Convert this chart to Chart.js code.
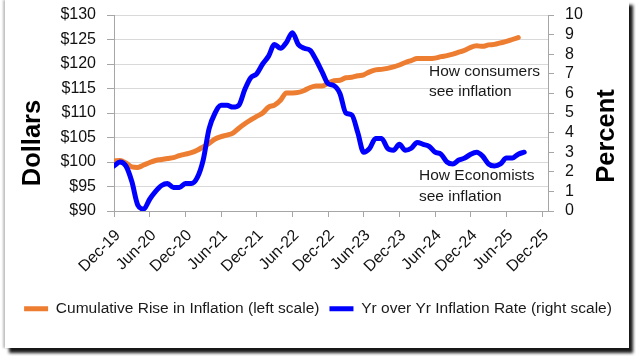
<!DOCTYPE html>
<html><head><meta charset="utf-8">
<script src="https://cdn.jsdelivr.net/npm/chart.js@4"></script>
<style>
html,body{margin:0;padding:0;background:#fff;width:636px;height:356px;overflow:hidden}
#frame{position:absolute;left:5px;top:0;width:624px;height:348px;background:#fff;box-shadow:4px 5px 3px rgba(0,0,0,0.9),-2px 0 2px rgba(0,0,0,0.25)}
#c{position:absolute;left:0;top:0}
</style></head><body>
<div id="frame"></div>
<canvas id="c" width="636" height="356"></canvas>
<script>
const xTickLabels = ['Dec-19','Jun-20','Dec-20','Jun-21','Dec-21','Jun-22','Dec-22','Jun-23','Dec-23','Jun-24','Dec-24','Jun-25','Dec-25'];
const seriesNames = ['Cumulative Rise in Inflation (left scale)', 'Yr over Yr Inflation Rate (right scale)'];
const cumulativeRise = [
  100.2,100.3,99.8,99.0,98.9,99.4,99.9,100.3,100.5,100.7,100.9,101.3,
  101.6,101.9,102.4,103.1,103.8,104.7,105.2,105.5,105.9,106.9,107.8,108.6,
  109.3,110.0,111.2,111.6,112.6,114.1,114.1,114.2,114.6,115.2,115.5,115.5,
  116.1,116.6,116.7,117.2,117.3,117.6,117.8,118.4,118.8,118.9,119.1,119.4,
  119.8,120.3,120.7,121.1,121.1,121.1,121.2,121.5,121.7,122.0,122.4,122.8,
  123.4,123.7,123.6,123.9,124.0,124.3,124.6,125.0,125.4
];
const yoyRate = [
  2.3,
  2.5,2.3,1.5,0.3,0.1,0.6,1.0,1.3,1.4,1.2,1.2,1.4,
  1.4,1.7,2.6,4.2,5.0,5.4,5.4,5.3,5.4,6.2,6.8,7.0,
  7.5,7.9,8.5,8.3,8.6,9.1,8.5,8.3,8.2,7.7,7.1,6.5,
  6.4,6.0,5.0,4.9,4.0,3.0,3.2,3.7,3.7,3.2,3.1,3.4,
  3.1,3.2,3.5,3.4,3.3,3.0,2.9,2.5,2.4,2.6,2.7,2.9,
  3.0,2.8,2.4,2.3,2.4,2.7,2.7,2.9,3.0
];
const leftAxisTitle = 'Dollars';
const rightAxisTitle = 'Percent';
const noteConsumers = ['How consumers', 'see inflation'];
const noteEconomists = ['How Economists', 'see inflation'];

const FONT = "'Liberation Sans', Arial, sans-serif";
Chart.defaults.font.family = FONT;
Chart.defaults.color = '#111';

const overlayText = {
  id: 'overlayText',
  afterDraw(chart) {
    const ctx = chart.ctx;
    ctx.save();
    ctx.fillStyle = '#000';
    ctx.font = "bold 25.5px " + FONT;
    ctx.textAlign = 'center';
    ctx.textBaseline = 'middle';
    ctx.save(); ctx.translate(33, 143); ctx.rotate(-Math.PI / 2); ctx.fillText(leftAxisTitle, 0, 0); ctx.restore();
    ctx.save(); ctx.translate(607, 136); ctx.rotate(-Math.PI / 2); ctx.fillText(rightAxisTitle, 0, 0); ctx.restore();
    ctx.font = "15.5px " + FONT;
    ctx.fillStyle = '#1a1a1a';
    ctx.textAlign = 'left';
    ctx.fillText(noteConsumers[0], 429, 72);
    ctx.fillText(noteConsumers[1], 429, 92);
    ctx.fillText(noteEconomists[0], 419, 176);
    ctx.fillText(noteEconomists[1], 419, 197);
    ctx.restore();
  }
};

const toPts = arr => arr.map((v, i) => ({x: i, y: v}));
const noVertPad = s => { s.paddingTop = 0; s.paddingBottom = 0; };

new Chart(document.getElementById('c'), {
  type: 'line',
  data: {
    datasets: [
      {
        label: seriesNames[0], data: toPts(cumulativeRise), yAxisID: 'y',
        borderColor: '#ED7D31', backgroundColor: '#ED7D31', borderWidth: 5,
        pointRadius: 0, cubicInterpolationMode: 'monotone',
        borderCapStyle: 'round', borderJoinStyle: 'round', order: 1
      },
      {
        label: seriesNames[1], data: toPts(yoyRate), yAxisID: 'y1',
        borderColor: '#0000FF', backgroundColor: '#0000FF', borderWidth: 5,
        pointRadius: 0, cubicInterpolationMode: 'monotone',
        borderCapStyle: 'round', borderJoinStyle: 'round', order: 0
      }
    ]
  },
  options: {
    responsive: false, animation: false, devicePixelRatio: 1,
    layout: { padding: { top: 15, bottom: 29.5, left: 0, right: 0 } },
    plugins: {
      tooltip: { enabled: false },
      legend: {
        position: 'bottom',
        labels: {
          usePointStyle: true, pointStyle: 'line', pointStyleWidth: 24,
          font: { size: 15.5 }, color: '#1a1a1a', padding: 10,
          sort: (a, b) => a.datasetIndex - b.datasetIndex
        }
      }
    },
    scales: {
      x: {
        type: 'linear', min: 0, max: 73,
        afterFit: s => { s.height = 80; s.paddingTop = 0; },
        grid: { drawOnChartArea: false, drawTicks: true, tickLength: 6, tickColor: '#A6A6A6' },
        border: { color: '#A6A6A6', width: 1 },
        ticks: {
          stepSize: 6, includeBounds: false, autoSkip: false,
          minRotation: 45, maxRotation: 45, padding: 9, labelOffset: 4,
          font: { size: 16 }, color: '#111',
          callback: v => xTickLabels[v / 6]
        }
      },
      y: {
        position: 'left', min: 90, max: 130,
        afterFit: s => { s.width = 114; noVertPad(s); },
        grid: { color: '#D9D9D9', lineWidth: 1, tickLength: 7, tickColor: '#A6A6A6' },
        border: { color: '#A6A6A6', width: 1 },
        ticks: { stepSize: 5, autoSkip: false, padding: 11, font: { size: 16 }, color: '#111', callback: v => '$' + v }
      },
      y1: {
        position: 'right', min: 0, max: 10,
        afterFit: s => { s.width = 88; noVertPad(s); },
        grid: { drawOnChartArea: false, tickLength: 6, tickColor: '#A6A6A6' },
        border: { color: '#A6A6A6', width: 1 },
        ticks: { stepSize: 1, autoSkip: false, padding: 11, font: { size: 16 }, color: '#111' }
      }
    }
  },
  plugins: [overlayText]
});
</script>
</body></html>
